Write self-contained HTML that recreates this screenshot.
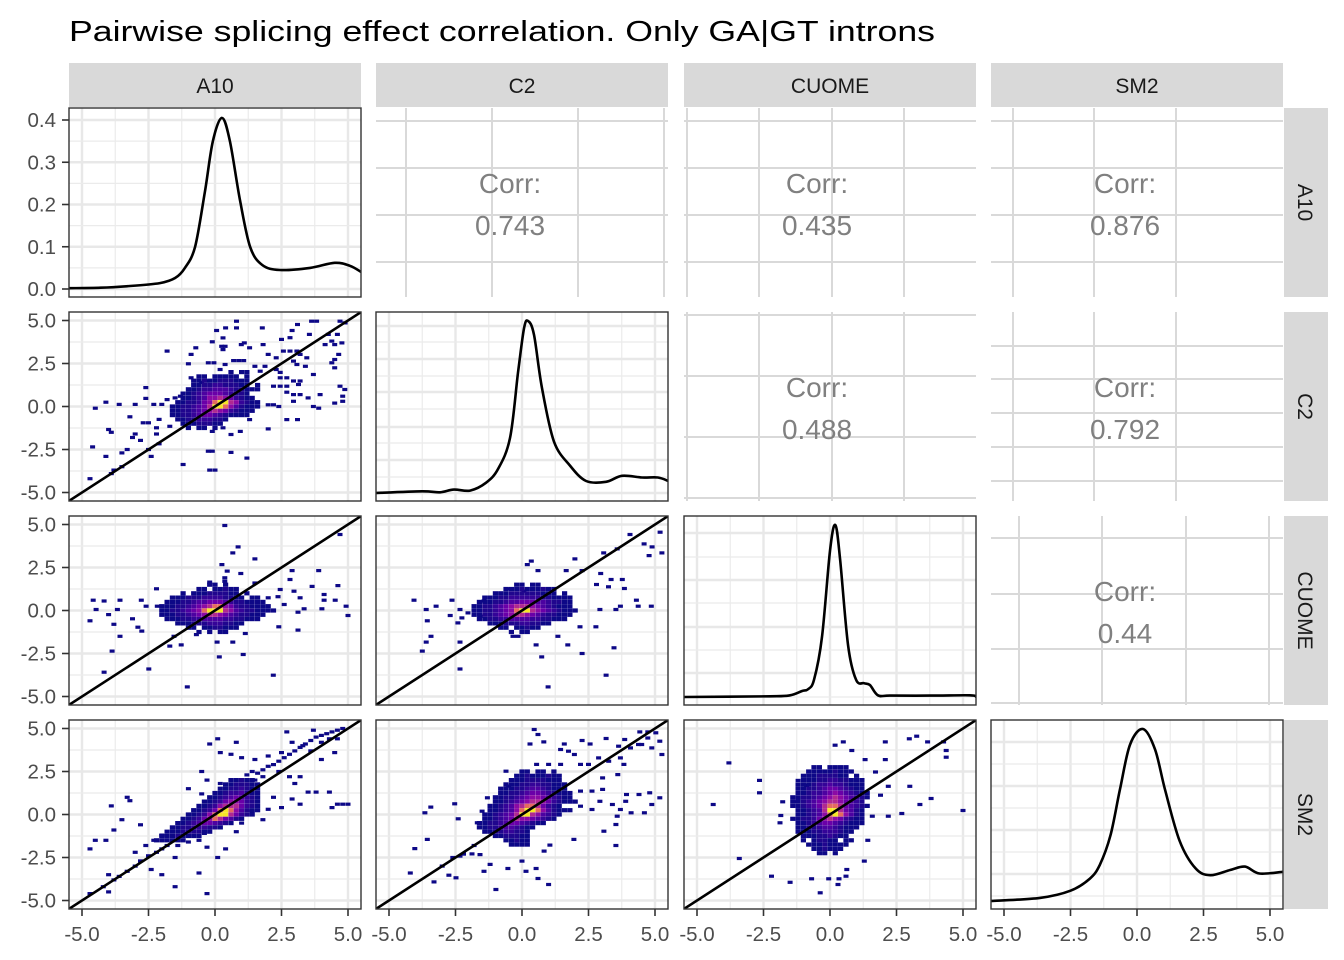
<!DOCTYPE html>
<html><head><meta charset="utf-8"><title>Pairwise splicing effect correlation</title>
<style>
html,body{margin:0;padding:0;background:#fff;}
svg{display:block;font-family:"Liberation Sans",Arial,sans-serif;}
</style></head>
<body>
<svg id="chart" width="1344" height="960" viewBox="0 0 1344 960" xmlns="http://www.w3.org/2000/svg">
<rect x="0" y="0" width="1344" height="960" fill="#fff"/>
<text x="69" y="41" font-size="29" fill="#000" textLength="866" lengthAdjust="spacingAndGlyphs">Pairwise splicing effect correlation. Only GA|GT introns</text>
<defs id="defs"></defs>
</svg>
<script>
// ---- data ----
const varNames = ["A10", "C2", "CUOME", "SM2"];
const xTickValues = [-5, -2.5, 0, 2.5, 5];
const xTickLabels = ["-5.0", "-2.5", "0.0", "2.5", "5.0"];
const minorTickValues = [-3.75, -1.25, 1.25, 3.75];
const densTickValues = [0, 0.1, 0.2, 0.3, 0.4];
const densTickLabels = ["0.0", "0.1", "0.2", "0.3", "0.4"];
const corrLabels = ["0.743", "0.435", "0.876", "0.488", "0.792", "0.44"];
const corrRows = [0, 0, 0, 1, 1, 2];
const corrCols = [1, 2, 3, 2, 3, 3];

const densA10X = [-5.5,-4.3,-3.2,-2.07,-1.5,-1.13,-0.75,-0.38,-0.08,0.26,0.56,0.94,1.32,1.77,2.44,3.57,4.5,5.07,5.5];
const densA10Y = [0.002,0.003,0.007,0.014,0.026,0.05,0.1,0.23,0.35,0.405,0.35,0.21,0.1,0.057,0.045,0.05,0.062,0.055,0.04];
const densC2X = [-5.5,-3.76,-3.08,-2.56,-1.95,-1.35,-0.9,-0.45,-0.15,0.08,0.23,0.45,0.75,1.2,1.8,2.41,3.16,3.76,4.51,5.11,5.5];
const densC2Y = [0,0.01,0.004,0.02,0.014,0.06,0.14,0.32,0.7,0.96,1,0.92,0.61,0.3,0.16,0.07,0.065,0.1,0.09,0.09,0.07];
const densCUOMEX = [-5.5,-2.26,-1.5,-1.05,-0.83,-0.6,-0.3,0,0.2,0.38,0.68,0.98,1.28,1.5,1.8,2.26,3.76,5.26,5.5];
const densCUOMEY = [0,0.004,0.01,0.035,0.045,0.1,0.35,0.85,1,0.8,0.3,0.1,0.08,0.07,0.01,0.008,0.008,0.01,0];
const densSM2X = [-5.5,-3.65,-2.5,-1.77,-1.4,-1.0,-0.64,-0.26,0.23,0.68,1.05,1.6,2.2,2.75,3.5,4.06,4.6,5.5];
const densSM2Y = [0,0.018,0.06,0.13,0.21,0.38,0.65,0.91,1,0.88,0.65,0.35,0.19,0.15,0.18,0.2,0.16,0.17];

const coreA = [[2.0,0.6,"1011"],[1.75,-0.6,"1101111101"],[1.5,-0.8,"11211222111"],[1.25,-0.8,"1122332221101"],[1.0,-1.0,"11233444322111"],[0.75,-1.2,"1123455543221"],[0.5,-1.2,"11234667653211"],[0.25,-1.4,"1122356899763211"],[0.0,-1.6,"11223457998642111"],[-0.25,-1.6,"1122345676532111"],[-0.5,-1.6,"112234554321111"],[-0.75,-1.4,"1122333221"],[-1.0,-1.2,"11122211"],[-1.25,-1.0,"101101"]];
const outA = [0.81,4.96,0.06,4.42,0.4,4.57,0.81,4.57,1.78,4.57,3.1,4.77,3.63,4.96,3.82,4.96,4.7,4.96,4.89,4.86,2.9,4.42,2.5,3.9,2.82,4.0,3.55,4.19,4.26,4.19,0.3,3.99,0.38,3.5,0.25,3.5,0.3,3.31,0.99,3.6,1.1,3.7,1.3,3.41,1.81,3.6,-0.1,3.76,-0.72,3.41,-1.8,3.22,2.0,3.03,2.3,2.83,2.57,3.22,2.82,3.22,3.08,3.22,3.2,3.03,3.45,2.83,2.95,2.64,3.08,2.44,3.4,2.34,4.14,3.6,4.39,3.8,4.5,3.6,4.77,3.7,4.6,4.19,4.65,3.03,4.5,2.73,4.39,2.54,4.5,2.25,-0.9,3.03,-1.0,2.48,-0.25,2.54,-0.04,2.54,0.7,2.67,0.89,2.67,1.08,2.67,0.19,2.15,0.38,2.44,1.5,2.34,1.88,2.34,1.7,2.05,2.3,2.15,2.45,1.98,2.7,1.67,2.45,1.67,2.95,1.48,3.2,1.48,3.14,1.28,3.7,1.86,4.7,1.18,2.2,1.18,2.45,1.18,2.7,1.18,2.7,0.83,2.95,0.69,3.2,0.69,3.5,0.5,3.95,0.69,2.95,0.3,3.7,0.0,3.9,-0.1,4.5,0.2,4.88,0.99,4.8,0.6,4.8,0.3,2.4,0.0,2.2,0.1,2.0,0.1,-0.9,1.67,-0.5,1.4,-0.3,1.48,-2.6,1.1,-2.6,0.47,-4.1,0.25,-3.6,0.12,-3.0,0.12,-4.5,-0.1,-2.3,0.12,-2.0,0.12,-1.8,0.4,-1.5,0.5,-1.3,0.6,-3.2,-0.6,-2.7,-0.95,-2.5,-0.95,-2.1,-0.75,-4.0,-1.34,-3.9,-1.5,-3.0,-1.6,-3.1,-1.8,-2.8,-1.97,-2.2,-1.24,-2.2,-1.6,-1.7,-1.15,-2.5,-2.5,-2.4,-2.9,-2.1,-2.17,-3.5,-2.7,-3.3,-2.5,-4.1,-2.9,-4.6,-2.35,-3.5,-3.5,-3.8,-3.7,-3.9,-3.9,-4.7,-4.2,-1.2,-3.37,-0.25,-2.6,-0.1,-2.6,0,-3.7,-0.2,-3.7,0.6,-2.67,1.2,-3.0,0.95,-1.45,1.3,-0.76,2.0,-1.3,2.7,-0.76,3.1,-0.76,-0.1,-1.45,0.3,-1.24,0.6,-1.63];

const coreB = [[1.5,-0.2,"1101"],[1.25,-0.6,"11011211"],[1.0,-1.2,"1011122221101"],[0.75,-1.6,"11122233332211011"],[0.5,-1.8,"1112234455543221111"],[0.25,-2.0,"111223456788653221111"],[0.0,-2.0,"1122345689997643221111"],[-0.25,-2.0,"11122345677654322111"],[-0.5,-1.8,"111223344443322111"],[-0.75,-1.4,"1112223332211"],[-1.0,-1.0,"1101122111"],[-1.25,-0.6,"101011"]];
const outB = [0.37,4.94,4.7,4.42,0.87,3.7,0.67,3.35,1.5,3.0,0.26,2.67,0.46,2.29,0.97,2.15,2.9,2.32,3.9,2.32,2.82,1.8,1.5,1.6,-0.2,1.65,0.37,1.9,0.37,1.7,-2.2,1.26,4.62,1.45,3.65,1.4,4.1,0.93,4.52,0.6,4.1,0.6,-4.58,0.6,-4.17,0.55,-3.57,0.6,-2.77,0.6,-4.47,0.06,-3.67,0.06,-4.0,-0.24,-2.59,0.25,-2.17,0.25,-4.7,-0.6,-3.8,-0.8,-3.1,-0.48,-2.9,-0.97,-2.75,-1.2,-3.57,-1.5,-3.87,-2.36,-4.17,-3.59,-2.49,-3.4,-1.04,-4.44,-1.54,-1.5,-1.7,-2.07,-1.27,-2.0,-0.7,-1.4,0.08,-1.84,0.16,-2.7,0.67,-1.84,1.06,-2.56,2.19,-3.76,1.14,-1.34,2.4,-0.95,3.12,-1.14,5.0,-0.29,4.93,0.25,4.02,0.1,3.35,0.1,3.12,-0.1,2.6,0.35,2.45,1.22,2.97,1.12,3.2,0.74,2.0,0.74,2.37,0.8];

const coreC = [[1.5,-0.2,"11011"],[1.25,-0.6,"1112111211"],[1.0,-1.0,"11122222211101"],[0.75,-1.4,"11122333333221111"],[0.5,-1.6,"111223445554432211"],[0.25,-1.8,"1122345677765432111"],[0.0,-1.8,"11223456899765432111"],[-0.25,-1.8,"1122345677654322111"],[-0.5,-1.6,"11223344443322111"],[-0.75,-1.2,"111222332211"],[-1.0,-0.8,"11011211"],[-1.25,-0.4,"1011"]];
const outC = [4.06,4.42,5.19,4.55,4.89,3.7,5.26,3.35,4.78,3.19,4.59,3.87,3.58,3.58,3.07,3.35,1.99,3.0,0.35,2.87,0.2,2.67,0.6,2.32,1.66,2.32,2.26,2.32,2.96,2.15,3.35,1.8,3.77,1.8,2.8,1.51,3.25,1.38,3.85,1.28,-0.45,1.26,0.07,1.12,4.3,0.6,4.86,0.25,4.37,0.25,3.7,0.25,-4.06,0.6,-3.23,0.25,-3.6,0.06,-2.63,0.6,-2.33,0.06,-2.7,-0.29,-2.03,-0.14,-3.56,-0.6,-2.41,-0.72,-2.26,-0.43,-1.58,-0.33,-1.43,0.55,-3.42,-1.5,-3.6,-1.84,-3.75,-2.36,-2.33,-1.84,-2.33,-3.4,-0.34,-1.5,-0.15,-1.5,0.53,-2.0,0.74,-2.7,0.98,-4.44,1.35,-1.5,1.72,-2.0,2.26,-2.5,3.46,-2.17,3.16,-3.76,2.78,-0.95,2.18,-0.95,2.93,0.06,3.53,0.06];

const coreD = [[2.0,0.6,"11211"],[1.75,0.4,"1122211"],[1.5,0.2,"11223211"],[1.25,0.0,"112334211"],[1.0,-0.2,"1123454321"],[0.75,-0.4,"11235665321"],[0.5,-0.6,"112367775321"],[0.25,-0.8,"1123589864211"],[0.0,-1.0,"1123689975321"],[-0.25,-1.2,"112356875421"],[-0.5,-1.4,"11234554321"],[-0.75,-1.6,"1122333221"],[-1.0,-1.8,"111222211"],[-1.25,-2.0,"11121111"],[-1.5,-2.2,"111111"]];
const outD = [1.2,2.3,1.4,2.5,1.6,2.4,1.8,2.6,2.0,2.8,2.2,2.9,1.5,2.0,1.8,2.2,2.4,3.1,2.6,3.3,2.8,3.5,3.0,3.7,3.2,3.9,3.4,4.1,3.6,4.3,3.8,4.5,4.0,4.6,4.2,4.7,4.4,4.8,4.6,4.9,4.8,5.0,2.5,3.6,2.9,4.2,3.3,4.0,3.6,3.7,4.0,4.2,4.3,4.4,4.6,4.4,3.7,4.9,2.7,4.8,4.5,3.6,4.0,3.2,1.0,3.3,0.6,3.5,0.2,3.6,0.8,4.2,0.1,4.4,-0.2,4.1,1.5,3.2,2.0,3.4,2.4,2.5,2.8,2.2,3.0,1.8,3.5,1.3,3.8,1.3,4.3,1.3,4.6,0.6,4.8,0.6,5.0,0.6,4.4,0.4,3.2,0.6,2.9,0.9,2.2,1.0,2.5,0.4,3.2,2.2,-0.5,2.5,-0.3,2.0,0.2,1.8,-1.0,1.5,-0.5,1.2,-1.8,-1.8,-2.0,-2.0,-2.2,-2.2,-2.5,-2.4,-2.8,-2.7,-3.0,-3.0,-3.3,-3.3,-3.6,-3.6,-3.8,-3.8,-4.2,-4.2,-4.7,-4.6,-4.0,-3.5,-2.6,-1.8,-2.3,-1.5,-2.0,-1.2,-1.4,-1.8,-1.0,-1.6,-0.6,-1.5,-0.4,-1.1,-2.8,-0.6,-3.5,-0.3,-3.0,-2.2,-2.4,-3.2,-1.5,-2.5,-4.5,-1.5,-4.1,-1.5,-4.7,-2.0,-3.8,-0.9,-3.2,0.8,-3.9,0.5,-3.3,1.0,-2.0,-3.5,-0.6,-3.4,-0.3,-4.6,-1.5,-4.2,-4.0,-4.5,0.1,-2.5,-0.3,-1.9,0.4,-2.0,0.8,-1.0,1.4,0.2,1.8,-0.3,2.0,0.3,1.0,-0.5];

const coreE = [[2.5,0.0,"1101101"],[2.25,-0.2,"112111211"],[2.0,-0.4,"1112222111"],[1.75,-0.6,"111223322111"],[1.5,-0.8,"1112234432111"],[1.25,-0.8,"11223455432111"],[1.0,-1.0,"112234566543211"],[0.75,-1.0,"1123456776532111"],[0.5,-1.2,"11234678875321"],[0.25,-1.2,"1123468998642111"],[0.0,-1.4,"112345799764321"],[-0.25,-1.4,"11234576654321"],[-0.5,-1.6,"1122345543211"],[-0.75,-1.6,"11223443211"],[-1.0,-1.4,"112233221"],[-1.25,-1.0,"1122211"],[-1.5,-0.6,"11211"],[-1.75,-0.4,"1111"]];
const outE = [0.46,4.94,0.6,4.65,0.82,4.22,0.3,4.1,1.59,4.1,2.26,4.3,2.56,4.1,3.16,4.42,4.43,4.8,4.73,4.8,5.03,4.75,4.73,4.45,4.5,4.07,4.88,3.87,5.18,4.26,5.26,3.49,3.86,4.36,4.08,3.87,3.63,3.97,4.38,4.07,3.7,3.29,3.26,3.1,2.88,3.29,2.5,2.91,2.2,2.91,1.45,2.91,1.0,2.91,0.55,2.91,1.45,3.78,1.75,3.68,1.97,3.49,3.03,2.13,3.6,2.32,3.83,2.91,2.2,1.36,2.63,1.36,3.03,1.46,3.93,1.16,4.4,1.16,4.8,1.26,5.18,0.97,4.88,0.58,3.9,0.77,3.4,0.58,3.7,0.29,3.58,-0.1,4.1,0.1,4.6,0.1,2.2,0.48,2.63,0.29,2.93,0.77,-0.6,2.52,-0.5,1.65,-1.3,0.97,-2.53,0.62,-3.43,0.43,-3.65,0.1,-2.4,-0.25,-1.68,-0.48,-1.5,0.19,-3.56,-1.45,-4.03,-1.98,-3.31,-3.92,-2.75,-3.53,-2.48,-3.68,-2.33,-2.42,-1.88,-2.29,-1.58,-2.33,-1.2,-2.9,-1.43,-3.3,-0.98,-4.36,-0.53,-3.14,0.15,-3.3,0.6,-3.72,1.0,-4.07,0,-2.71,0.53,-3.14,0.83,-2.13,1.05,-1.78,1.95,-1.45,3.53,-1.8,3.08,-0.97,3.53,-0.58,-1.8,-1.8,-2.2,-2.3,-2.6,-2.5,-3.0,-3.0,-4.2,-3.4];

const coreF = [[2.75,-0.6,"1101111"],[2.5,-0.8,"111112111"],[2.25,-1.0,"11122221101"],[2.0,-1.0,"111223322111"],[1.75,-1.2,"1112334332111"],[1.5,-1.2,"1122345543211"],[1.25,-1.2,"11233456543211"],[1.0,-1.4,"112234567654321"],[0.75,-1.4,"11234567765432"],[0.5,-1.4,"112345788754321"],[0.25,-1.2,"1123479975421"],[0.0,-1.2,"1123468986421"],[-0.25,-1.4,"11223567653211"],[-0.5,-1.2,"1123455432111"],[-0.75,-1.2,"112234432111"],[-1.0,-1.2,"11122333211"],[-1.25,-1.0,"111223211"],[-1.5,-1.0,"1012211011"],[-1.75,-0.8,"11121111"],[-2.0,-0.6,"112111"],[-2.25,-0.4,"1101"]];
const outF = [-3.8,3.0,-4.39,0.58,-2.65,1.98,-2.65,1.26,-1.78,0.74,-1.38,0.74,-1.85,-0.06,-1.88,-0.48,-3.41,-2.56,-2.2,-3.59,-1.5,-3.94,-0.69,-3.74,-0.05,-3.74,0.34,-3.74,0.3,-4.07,-0.37,-4.55,0.63,-3.2,0.6,-3.59,0.19,4.03,0.5,4.22,0.82,3.72,1.32,3.19,2.08,4.22,2.08,3.19,2.98,4.4,3.26,4.55,3.67,4.22,4.27,4.22,4.37,3.72,4.37,3.33,1.71,2.47,2.19,1.64,3.0,1.64,1.9,1.12,3.38,0.58,3.8,0.93,5.0,0.23,2.7,0.06,2.19,-0.1,1.59,-0.1,1.42,-1.5,1.29,-2.71,-1.2,1.98,-0.88,1.69,-1.2,0.97];

// ---- layout ----
const svg = document.getElementById('chart');
const defs = document.getElementById('defs');
const NS = 'http://www.w3.org/2000/svg';
const PX0 = [69, 376, 684, 991], PY0 = [108, 312, 516, 720], PW = 292, PH = 189;
const KX = 26.6, KY = 17.2;
const levelColors = ['#ffffff','#0d0887','#20068e','#350498','#4c02a1','#6a00a8','#8b0aa5','#b02991','#e46a5f','#f5e626'];

function sx(c, v) { return PX0[c] + PW / 2 + v * KX; }
function sy(r, v) { return PY0[r] + PH / 2 - v * KY; }
function syDensA10(v) { return 289 - v * 422.5; }
function syRel(r, v) { const b = PY0[r] + PH - 8, t = PY0[r] + 9; return b - v * (b - t); }

function mk(tag, attrs, parent) {
  const e = document.createElementNS(NS, tag);
  for (const k in attrs) e.setAttribute(k, attrs[k]);
  (parent || svg).appendChild(e);
  return e;
}
function smoothPath(pts) {
  let d = 'M' + pts[0][0].toFixed(1) + ' ' + pts[0][1].toFixed(1);
  for (let i = 0; i < pts.length - 1; i++) {
    const p0 = pts[Math.max(0, i - 1)], p1 = pts[i], p2 = pts[i + 1], p3 = pts[Math.min(pts.length - 1, i + 2)];
    const c1x = p1[0] + (p2[0] - p0[0]) / 6, c1y = p1[1] + (p2[1] - p0[1]) / 6;
    const c2x = p2[0] - (p3[0] - p1[0]) / 6, c2y = p2[1] - (p3[1] - p1[1]) / 6;
    d += ' C' + c1x.toFixed(1) + ' ' + c1y.toFixed(1) + ' ' + c2x.toFixed(1) + ' ' + c2y.toFixed(1) + ' ' + p2[0].toFixed(1) + ' ' + p2[1].toFixed(1);
  }
  return d;
}

// strips
for (let c = 0; c < 4; c++) {
  const s = mk('rect', {x: PX0[c], y: 63, width: PW, height: 44, fill: '#d9d9d9'});
  
  
  const t = mk('text', {x: PX0[c] + PW / 2, y: 93, 'font-size': 21, fill: '#1a1a1a', 'text-anchor': 'middle'});
  t.textContent = varNames[c];
  
  
}
for (let r = 0; r < 4; r++) {
  const s = mk('rect', {x: 1284, y: PY0[r], width: 44, height: PH, fill: '#d9d9d9'});
  
  
  const cy = PY0[r] + PH / 2;
  const t = mk('text', {x: 1298, y: cy, 'font-size': 21, fill: '#1a1a1a', 'text-anchor': 'middle', transform: 'rotate(90 1298 ' + cy + ')'});
  t.textContent = varNames[r];
  
  
}

const upperGridV = [[406,492,578,664],[687,759,832,904],[1013,1094,1176],[687,759,832,904],[1013,1094,1176],[1019,1102,1186,1269]];
const upperGridH = [[121,168,215,262],[121,168,215,262],[121,168,215,262],[315,376,437,498],[346,379,413,447,481],[538,594,649,703]];

for (let i = 0; i < corrLabels.length; i++) {
  const r = corrRows[i], c = corrCols[i];
  const g = mk('g', {});
  
  
  upperGridH[i].forEach(y => {
    const l = mk('line', {x1: PX0[c], x2: PX0[c] + PW, y1: y, y2: y, stroke: '#d9d9d9', 'stroke-width': 2}, g);
    
    
  });
  upperGridV[i].forEach(x => {
    const l = mk('line', {x1: x, x2: x, y1: PY0[r], y2: PY0[r] + PH, stroke: '#d9d9d9', 'stroke-width': 2}, g);
    
    
  });
  const cx = c === 1 ? 510 : (c === 2 ? 817 : 1125);
  const t1 = mk('text', {x: cx, y: PY0[r] + 85, 'font-size': 28, fill: '#808080', 'text-anchor': 'middle'}, g);
  t1.textContent = 'Corr:';
  
  
  const t2 = mk('text', {x: cx, y: PY0[r] + 127, 'font-size': 28, fill: '#808080', 'text-anchor': 'middle'}, g);
  t2.textContent = corrLabels[i];
  
  
}

function panelGrid(r, c, g, hMajor, hMinor) {
  minorTickValues.forEach(v => {
    const l = mk('line', {x1: sx(c, v), x2: sx(c, v), y1: PY0[r], y2: PY0[r] + PH, stroke: '#ebebeb', 'stroke-width': 1.2}, g);
    
    
  });
  xTickValues.forEach(v => {
    const l = mk('line', {x1: sx(c, v), x2: sx(c, v), y1: PY0[r], y2: PY0[r] + PH, stroke: '#e8e8e8', 'stroke-width': 2.4}, g);
    
    
  });
  hMinor.forEach(y => {
    const l = mk('line', {x1: PX0[c], x2: PX0[c] + PW, y1: y, y2: y, stroke: '#ebebeb', 'stroke-width': 1.2}, g);
    
    
  });
  hMajor.forEach(y => {
    const l = mk('line', {x1: PX0[c], x2: PX0[c] + PW, y1: y, y2: y, stroke: '#e8e8e8', 'stroke-width': 2.4}, g);
    
    
  });
}
function clipFor(r, c) {
  const id = 'clip' + r + c;
  if (!document.getElementById(id)) {
    const cp = mk('clipPath', {id: id}, defs);
    mk('rect', {x: PX0[c], y: PY0[r], width: PW, height: PH}, cp);
  }
  return 'url(#' + id + ')';
}
function border(r, c, g) {
  const b = mk('rect', {x: PX0[c], y: PY0[r], width: PW, height: PH, fill: 'none', stroke: '#333', 'stroke-width': 1.4}, g);
  
  
}

const densXs = [densA10X, densC2X, densCUOMEX, densSM2X];
const densYs = [densA10Y, densC2Y, densCUOMEY, densSM2Y];
const diagHMajor = [densTickValues.map(syDensA10), [326,359,392,427,460,493], [533,580,627,673], [742,786,830,874]];
const diagHMinor = [[0.05,0.15,0.25,0.35].map(syDensA10), [342,376,409,443,477], [557,603,650,697], [764,808,852,896]];
for (let d = 0; d < 4; d++) {
  const g = mk('g', {});
  
  
  panelGrid(d, d, g, diagHMajor[d], diagHMinor[d]);
  const xs = densXs[d], ys = densYs[d];
  const pts = xs.map((xv, i) => [sx(d, xv), d === 0 ? syDensA10(ys[i]) : syRel(d, ys[i])]);
  const p = mk('path', {d: smoothPath(pts), fill: 'none', stroke: '#000', 'stroke-width': 2.6, 'stroke-linejoin': 'round', 'clip-path': clipFor(d, d)}, g);
  
  
  border(d, d, g);
}

const scatterRows = [1, 2, 2, 3, 3, 3];
const scatterCols = [0, 0, 1, 0, 1, 2];
const scatterCores = [coreA, coreB, coreC, coreD, coreE, coreF];
const scatterOut = [outA, outB, outC, outD, outE, outF];
for (let k = 0; k < 6; k++) {
  const r = scatterRows[k], c = scatterCols[k];
  const g = mk('g', {});
  
  
  panelGrid(r, c, g, xTickValues.map(v => sy(r, v)), minorTickValues.map(v => sy(r, v)));
  const cells = mk('g', {'clip-path': clipFor(r, c)}, g);
  
  
  const out = scatterOut[k];
  for (let i = 0; i < out.length; i += 2) {
    const cell = mk('rect', {x: (sx(c, out[i]) - 2.5).toFixed(1), y: (sy(r, out[i + 1]) - 1.6).toFixed(1), width: 5, height: 3.2, fill: levelColors[1]}, cells);
    
    
  }
  scatterCores[k].forEach(row => {
    const yv = row[0], x0 = row[1], s = row[2];
    for (let i = 0; i < s.length; i++) {
      const lv = +s[i];
      if (!lv) continue;
      const xv = x0 + i * 0.2;
      const cell = mk('rect', {x: (sx(c, xv) - 2.6).toFixed(1), y: (sy(r, yv) - 2.1).toFixed(1), width: 5.2, height: 4.2, fill: levelColors[lv]}, cells);
      
      
    }
  });
  const ln = mk('line', {x1: sx(c, -5.5), y1: sy(r, -5.5), x2: sx(c, 5.5), y2: sy(r, 5.5), stroke: '#000', 'stroke-width': 2.6, 'clip-path': clipFor(r, c)}, g);
  
  
  border(r, c, g);
}

for (let r = 0; r < 4; r++) {
  const vals = r === 0 ? densTickValues : xTickValues;
  const labs = r === 0 ? densTickLabels : xTickLabels;
  for (let i = 0; i < vals.length; i++) {
    const y = r === 0 ? syDensA10(vals[i]) : sy(r, vals[i]);
    const tk = mk('line', {x1: 62, x2: 69, y1: y, y2: y, stroke: '#333', 'stroke-width': 1.6});
    
    
    const t = mk('text', {x: 56, y: y + 7, 'font-size': 20.5, fill: '#4d4d4d', 'text-anchor': 'end'});
    t.textContent = labs[i];
    
    
  }
}
for (let c = 0; c < 4; c++) {
  for (let i = 0; i < xTickValues.length; i++) {
    const x = sx(c, xTickValues[i]);
    const tk = mk('line', {x1: x, x2: x, y1: 909, y2: 916, stroke: '#333', 'stroke-width': 1.6});
    
    
    const t = mk('text', {x: x, y: 941, 'font-size': 20.5, fill: '#4d4d4d', 'text-anchor': 'middle'});
    t.textContent = xTickLabels[i];
    
    
  }
}
</script>
</body></html>
